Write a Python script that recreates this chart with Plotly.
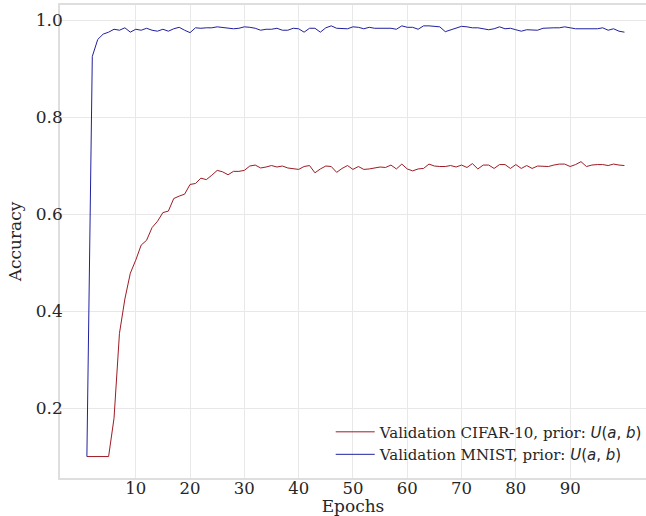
import plotly.graph_objects as go

epochs = list(range(1, 101))

cifar_acc = [
    0.100, 0.100, 0.100, 0.100, 0.100, 0.179, 0.354, 0.425, 0.478, 0.505,
    0.536, 0.546, 0.572, 0.585, 0.603, 0.606, 0.632, 0.637, 0.641, 0.661,
    0.663, 0.674, 0.671, 0.680, 0.690, 0.687, 0.681, 0.688, 0.688, 0.690,
    0.699, 0.701, 0.695, 0.697, 0.700, 0.697, 0.699, 0.695, 0.693, 0.692,
    0.698, 0.700, 0.685, 0.693, 0.699, 0.698, 0.686, 0.694, 0.700, 0.692,
    0.698, 0.692, 0.693, 0.695, 0.697, 0.696, 0.701, 0.693, 0.703, 0.693,
    0.689, 0.693, 0.694, 0.703, 0.699, 0.698, 0.698, 0.700, 0.697, 0.701,
    0.696, 0.704, 0.693, 0.701, 0.701, 0.694, 0.702, 0.702, 0.694, 0.702,
    0.694, 0.700, 0.694, 0.699, 0.698, 0.698, 0.701, 0.703, 0.703, 0.698,
    0.702, 0.708, 0.698, 0.701, 0.702, 0.702, 0.700, 0.703, 0.701, 0.700,
]

mnist_acc = [
    0.100, 0.925, 0.960, 0.971, 0.975, 0.981, 0.979, 0.984, 0.975, 0.981,
    0.979, 0.983, 0.979, 0.977, 0.981, 0.977, 0.982, 0.985, 0.979, 0.974,
    0.984, 0.983, 0.984, 0.984, 0.986, 0.985, 0.984, 0.982, 0.983, 0.986,
    0.985, 0.983, 0.979, 0.981, 0.981, 0.983, 0.979, 0.979, 0.983, 0.982,
    0.975, 0.983, 0.983, 0.975, 0.984, 0.988, 0.983, 0.982, 0.982, 0.986,
    0.985, 0.982, 0.985, 0.983, 0.983, 0.983, 0.983, 0.981, 0.988, 0.985,
    0.985, 0.981, 0.988, 0.988, 0.987, 0.986, 0.976, 0.980, 0.983, 0.987,
    0.986, 0.984, 0.984, 0.982, 0.980, 0.982, 0.986, 0.982, 0.983, 0.980,
    0.977, 0.980, 0.980, 0.979, 0.983, 0.984, 0.984, 0.984, 0.986, 0.984,
    0.982, 0.982, 0.982, 0.982, 0.982, 0.984, 0.979, 0.982, 0.977, 0.975,
]

x_ticks = [10, 20, 30, 40, 50, 60, 70, 80, 90]
y_ticks = [0.2, 0.4, 0.6, 0.8, 1.0]
y_tick_text = ["0.2", "0.4", "0.6", "0.8", "1.0"]

math_u = "<span style='font-family:DejaVu Sans'><i>U</i>(<i>a</i>, <i>b</i>)</span>"
name_cifar = "Validation CIFAR-10, prior: " + math_u
name_mnist = "Validation MNIST, prior: " + math_u

SERIF = "DejaVu Serif"
TXT = "#262626"
GRID = "#e8e8e8"
SPINE = "#dedede"

fig = go.Figure()
fig.add_trace(go.Scatter(x=epochs, y=cifar_acc, mode="lines", name=name_cifar,
                         line=dict(color="#9e1b24", width=1)))
fig.add_trace(go.Scatter(x=epochs, y=mnist_acc, mode="lines", name=name_mnist,
                         line=dict(color="#2020a0", width=1)))

fig.update_layout(
    width=646, height=516,
    margin=dict(l=60, r=0, t=5, b=38, autoexpand=False),
    paper_bgcolor="white", plot_bgcolor="white",
    font=dict(family=SERIF, color=TXT, size=16),
    showlegend=True,
    legend=dict(
        x=0.462, y=0.132, xanchor="left", yanchor="top",
        bgcolor="rgba(0,0,0,0)", borderwidth=0,
        font=dict(family=SERIF, size=15, color=TXT),
        itemwidth=39, tracegroupgap=0,
    ),
)
fig.update_xaxes(
    range=[-3.95, 103.97], tickvals=x_ticks, ticks="",
    showgrid=True, gridcolor=GRID, gridwidth=1, zeroline=False,
    showline=True, linecolor=SPINE, linewidth=1.5, mirror=True,
    tickfont=dict(family=SERIF, size=16.5, color=TXT),
    ticklabelstandoff=-6,
    title=dict(text="Epochs", font=dict(family=SERIF, size=17, color=TXT), standoff=4),
)
fig.update_yaxes(
    range=[0.0558, 1.031], tickvals=y_ticks, ticktext=y_tick_text, ticks="",
    showgrid=True, gridcolor=GRID, gridwidth=1, zeroline=False,
    showline=True, linecolor=SPINE, linewidth=1.5, mirror=True,
    tickfont=dict(family=SERIF, size=17, color=TXT),
    ticklabelstandoff=-8,
    title=dict(text="Accuracy", font=dict(family=SERIF, size=17, color=TXT), standoff=10),
)

fig.write_html("out.html", config={"displayModeBar": False},
               post_script="document.body.style.margin='0';")
